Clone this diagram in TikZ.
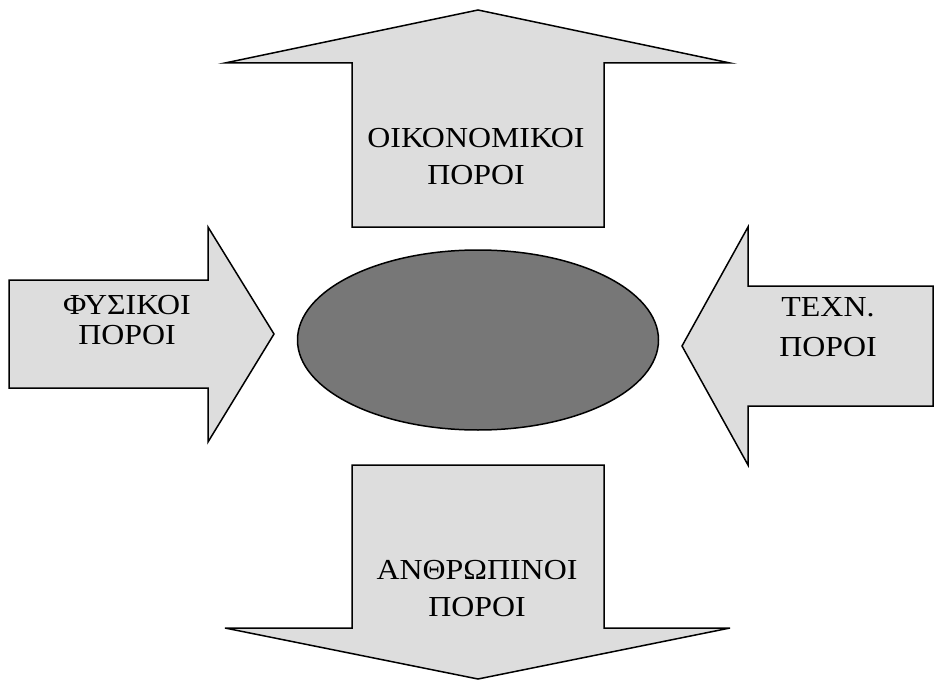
\documentclass[tikz,border=0pt]{standalone}
\usepackage{fontspec}
\usepackage{xcolor}
\newfontfamily\lblfont[FakeStretch=1.1]{Liberation Serif}
\definecolor{panelgray}{HTML}{DDDDDD}
\definecolor{coregray}{HTML}{777777}
\usepackage{tikz}
\usetikzlibrary{shapes.geometric}
\tikzset{
  shaft/.style={draw, fill=panelgray, line width=1.5pt, line join=miter},
  core/.style={ellipse, draw, fill=coregray, line width=1.5pt,
               minimum width=361pt, minimum height=180pt, inner sep=0pt},
  lbl/.style={align=center, inner sep=0pt,
              font=\lblfont\fontsize{29}{37}\selectfont},
}

\begin{document}
\begin{tikzpicture}[x=1pt, y=-1pt]
  \useasboundingbox (0,0) rectangle (935,682);

  % four block arrows round the centre
  \draw[shaft] (352,227) -- (352,63) -- (225,63) -- (478,10)
               -- (730,63) -- (604,63) -- (604,227) -- cycle;
  \draw[shaft] (352,465) -- (352,628) -- (225,628) -- (478,679)
               -- (730,628) -- (604,628) -- (604,465) -- cycle;
  \draw[shaft] (9,280) -- (208,280) -- (208,227) -- (274,334)
               -- (208,442) -- (208,388) -- (9,388) -- cycle;
  \draw[shaft] (933,286) -- (748,286) -- (748,227) -- (682,346)
               -- (748,465) -- (748,406) -- (933,406) -- cycle;

  \node[core] (core) at (478,340) {};

  \node[lbl] (econ) at (476,157) {ΟΙΚΟΝΟΜΙΚΟΙ\\ΠΟΡΟΙ};
  \node[lbl, font=\lblfont\fontsize{29}{30}\selectfont] (nat) at (127,320) {ΦΥΣΙΚΟΙ\\ΠΟΡΟΙ};
  \node[lbl, font=\lblfont\fontsize{29}{40}\selectfont] (tech) at (828,327) {ΤΕΧΝ.\\ΠΟΡΟΙ};
  \node[lbl] (hum) at (477,589) {ΑΝΘΡΩΠΙΝΟΙ\\ΠΟΡΟΙ};
\end{tikzpicture}
\end{document}
